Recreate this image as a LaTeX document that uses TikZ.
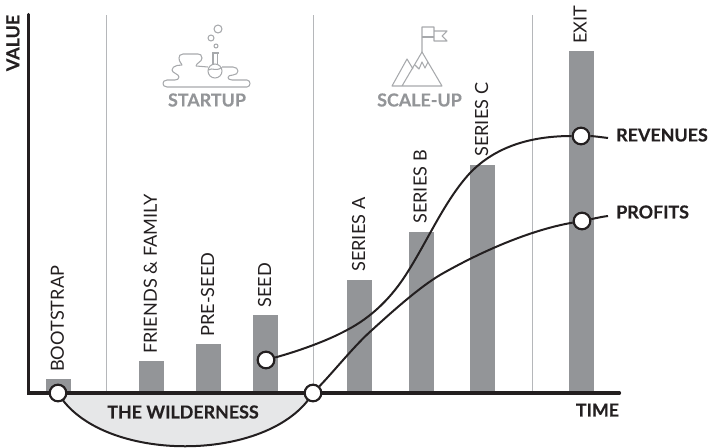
\documentclass[tikz,border=0pt]{standalone}
\usepackage{fontspec}
\setmainfont{Lato}[BoldFeatures={FakeBold=0.4}]
\definecolor{barc}{HTML}{939598}
\definecolor{ink}{HTML}{231F20}
\definecolor{fillw}{HTML}{E6E7E8}
\definecolor{sep}{HTML}{B5B7BA}
\definecolor{iconc}{HTML}{A7A9AC}
\tikzset{
 x=0.75pt,y=-0.75pt,
 barbox/.style={fill=barc,draw=none},
 barlabel/.style={rotate=90,anchor=west,font=\fontsize{13.6pt}{15pt}\selectfont,text=ink,inner sep=0pt},
 dot/.style={circle,draw=ink,line width=1.6pt,fill=white,minimum size=12.5pt,inner sep=0pt},
 curve/.style={draw=ink,line width=1.5pt},
 bold/.style={font=\fontsize{13.4pt}{15pt}\selectfont\bfseries,text=ink,inner sep=0pt},
 gbold/.style={font=\fontsize{13.4pt}{15pt}\selectfont\bfseries,text=barc,inner sep=0pt},
 sepline/.style={draw=sep,line width=0.75pt},
 icon/.style={draw=iconc,line width=0.8pt,line join=round},
}
\begin{document}
\begin{tikzpicture}
\useasboundingbox (0,0) rectangle (709,447);
\foreach \xx in {106,313,532} \draw[sepline] (\xx,15) -- (\xx,393);
\foreach \a/\b/\t in {46/71/379,139/164/361,196/221/344,253/278/315,347/372/280,409/434/232,470/495/165,569/594/51}
  \fill[barbox] (\a,\t) rectangle (\b,393);
\node[barlabel] (lb1) at (57.5,372) {BOOTSTRAP};
\node[barlabel] (lb2) at (150.5,354) {FRIENDS \& FAMILY};
\node[barlabel] (lb3) at (207.5,337) {PRE-SEED};
\node[barlabel] (lb4) at (264.5,308) {SEED};
\node[barlabel] (lb5) at (358.5,272) {SERIES A};
\node[barlabel] (lb6) at (420,224) {SERIES B};
\node[barlabel] (lb7) at (481.5,157) {SERIES C};
\node[barlabel] (lb8) at (580,44) {EXIT};
\coordinate (wa) at (58,393);
\coordinate (wb) at (313,393);
\filldraw[fill=fillw,draw=ink,line width=1.5pt] (wa) .. controls (100,464) and (270,464) .. (wb);
\draw[ink,line width=2.4pt,line cap=round,line join=miter] (28.5,14.5) -- (28.5,393) -- (619.5,393);
\node[bold] (wild) at (183,412) {THE WILDERNESS};
\node[bold,rotate=90] (val) at (13,43) {VALUE};
\node[bold] (time) at (597.5,410) {TIME};
\node[gbold] (st) at (207,100) {STARTUP};
\node[gbold] (su) at (419.5,100) {SCALE-UP};
\node[bold,anchor=west] (rev) at (616,135) {REVENUES};
\node[bold,anchor=west] (pro) at (616,212) {PROFITS};
\coordinate (e4) at (608,138);
\coordinate (e5) at (608,216);
\node[dot] (d1) at (wa) {};
\node[dot] (d2) at (wb) {};
\node[dot] (d3) at (266,360) {};
\node[dot] (d4) at (581,136) {};
\node[dot] (d5) at (582,221) {};
\coordinate (r1) at (347,330);
\coordinate (r2) at (407,273);
\coordinate (r3) at (470,173);
\coordinate (p1) at (372,330);
\coordinate (p2) at (440,275);
\draw[curve] (d3) .. controls (295,352) and (325,342) .. (r1) .. controls (372,317) and (392,297) .. (r2) .. controls (428,240) and (445,200) .. (r3) .. controls (495,147) and (530,136) .. (d4);
\draw[curve] (d2) .. controls (335,370) and (355,345) .. (p1) .. controls (395,309) and (420,287) .. (p2) .. controls (480,252) and (530,230) .. (d5);
\draw[curve] (d4) .. controls (592,136) and (600,137) .. (e4);
\draw[curve] (d5) .. controls (592,219) and (600,217) .. (e5);
% flask icon
\draw[icon] (218,29) circle (4);
\draw[icon] (211,38) circle (3);
\draw[icon] (216,46) circle (2);
\draw[icon] (215,71) circle (7);
\draw[icon,fill=white] (213,54) -- (213,64.5) (217.5,54) -- (217.5,64.5);
\draw[icon] (212,53) -- (219,53);
\draw[icon] (208.5,70) .. controls (212,67) and (216,72) .. (221.5,67.5);
\draw[icon,rounded corners=3pt] (208,67) -- (196,66);
\draw[icon] (196,66) .. controls (196,63) and (202,62) .. (202,58) .. controls (202,55) and (200,54) .. (198,54) -- (183,54) .. controls (180,54) and (179,56) .. (179,58) .. controls (179,62) and (182,64) .. (182,65) -- (177,65.5) .. controls (174,66) and (172,68) .. (172,70) .. controls (172,73) and (179,74) .. (179,77) .. controls (179,79) and (177,80) .. (175,80) -- (167,80) .. controls (164,80) and (163,82) .. (163,83.5) .. controls (163,85) and (164,87) .. (167,87) -- (247,87) .. controls (249,87) and (250,85) .. (250,83.5) .. controls (250,82) and (249,80) .. (247,80) -- (232,80) .. controls (229,80) and (228,78.5) .. (228,77.5) .. controls (228,76) and (230,75) .. (233,75) .. controls (236,75) and (238,73) .. (238,71) .. controls (238,69) and (236,67) .. (233,67) -- (222,67);
% mountain icon
\draw[icon] (422,52) -- (422,27) -- (434,27) -- (434,41) -- (447,41) -- (442,36) -- (447,31) -- (434,31);
\draw[icon] (422,37) -- (434,37);
\draw[icon] (402,86) -- (422,52) -- (442,86) -- (392,86) -- (407,59) -- (413,69);
\draw[icon] (415,65) -- (419,69) -- (422,62) -- (425,68) -- (428,62);
\end{tikzpicture}
\end{document}
